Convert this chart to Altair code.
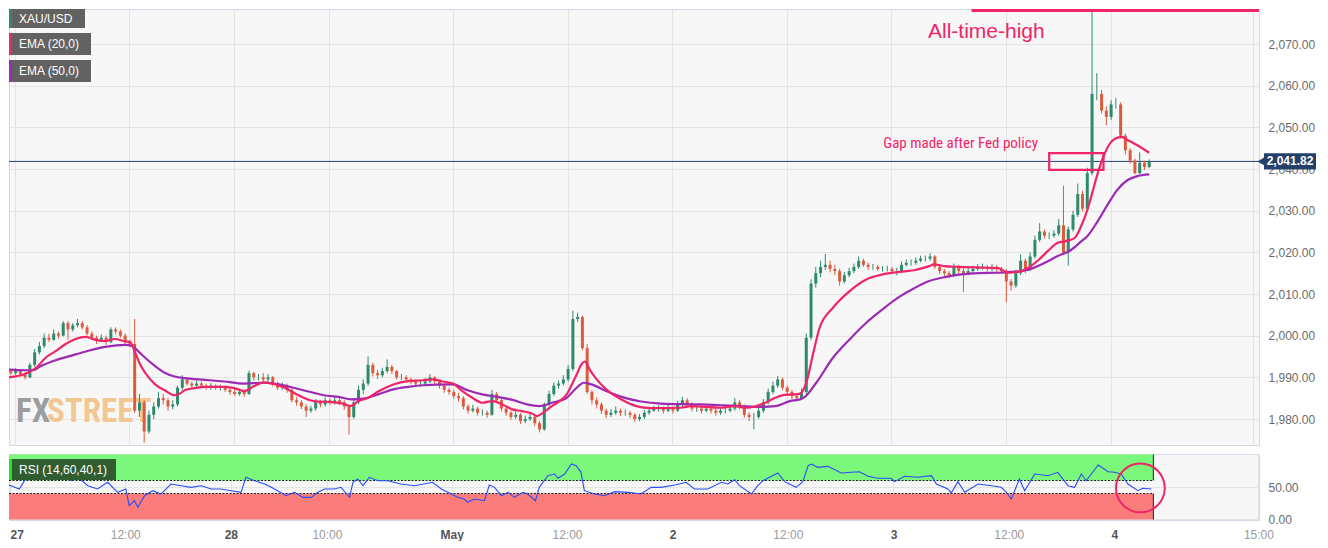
import altair as alt
import numpy as np
import pandas as pd

FONT = "Liberation Sans, Arial, Helvetica, sans-serif"
NARROW = "Liberation Sans Narrow, Arial Narrow, Roboto Condensed, Liberation Sans, sans-serif"

GREEN = "#2d8a6d"
RED = "#de5a3c"
PINK = "#ef2567"
PURPLE = "#9c2ab4"
NAVY = "#23416b"
GRID = "#e4e4e4"
BORDER = "#d3d9e6"
PLOT_BG = "#f7f7f7"
BAND_HI = "#7bf77b"
BAND_LO = "#fb7d7b"

# ---------------- data: XAU/USD 30-minute candles (bar index) ----------------
first_open = 1991.2

closes_apr27 = [1991.5, 1991, 1991.5, 1990.8, 1990, 1993, 1996, 1997.5, 1999.5, 1999,
                2000.5, 2000, 2003, 2001.5, 2002.5, 2003, 2002, 2000.5, 1999.5, 1999,
                1999.5, 1998.5, 2001.5, 2001, 2000, 1998.5, 1998, 1982, 1984, 1977,
                1981, 1983, 1985, 1984.5, 1983, 1983.5, 1987.5, 1989.5, 1988.5, 1988,
                1988.5, 1988, 1987.5, 1988, 1987.5, 1987.5, 1987, 1986.5]
highs_apr27 = [1992, 1992, 1992.2, 1992, 1991.2, 1993.5, 1996.8, 1998.5, 2000.5, 2000.5,
               2001.5, 2001, 2003.5, 2003.5, 2003, 2004, 2003.5, 2002.5, 2001, 2000,
               2000.3, 2000, 2002, 2002, 2001.5, 2000.5, 1999, 2004, 1986, 1984.5,
               1982, 1984, 1986.5, 1986, 1985, 1984.5, 1988, 1990.5, 1990, 1989,
               1989.2, 1989, 1988.5, 1988.6, 1988.3, 1988.2, 1988, 1987.5]
lows_apr27 = [1990.8, 1990.5, 1990.6, 1990.2, 1989.5, 1989.8, 1992.5, 1995.5, 1997, 1998.5,
              1998.8, 1999.3, 1999.8, 1999, 2001, 2002, 2001.5, 2000, 1999, 1998,
              1998.7, 1997.8, 1998.2, 2000.3, 1999.5, 1998, 1997.2, 1981.5, 1980.5, 1974.3,
              1976.5, 1980, 1982.5, 1983.5, 1982, 1982.3, 1983, 1987, 1988, 1987.4,
              1987.6, 1987.5, 1987, 1987, 1987, 1986.8, 1986.5, 1985.8]

closes_apr28 = [1986, 1986.5, 1986, 1991, 1990, 1990, 1989.5, 1990, 1988.5, 1987.5,
                1988, 1987, 1984.5, 1984, 1983, 1982, 1982.5, 1984, 1983.5, 1984.5,
                1984, 1984.5, 1984, 1983, 1980.5, 1984, 1987, 1988.5, 1993, 1991,
                1990.5, 1991.5, 1992.5, 1991.5, 1990, 1990, 1989.5, 1989, 1988.5, 1988.5,
                1989, 1990, 1989, 1988, 1987, 1986.5, 1985.5, 1985]
highs_apr28 = [1987.2, 1987.3, 1987, 1991.6, 1991.3, 1990.8, 1991, 1990.8, 1990.3, 1989,
               1988.8, 1988.5, 1987.5, 1985.3, 1984.5, 1983.5, 1983.2, 1984.8, 1984.6, 1985.2,
               1985, 1985.3, 1985, 1984.5, 1983.5, 1984.6, 1988, 1989.5, 1995, 1993.5,
               1991.8, 1992.3, 1994.3, 1993, 1991.8, 1990.8, 1990.5, 1990, 1989.5, 1989.2,
               1989.8, 1990.8, 1990.3, 1989.4, 1988.4, 1987.5, 1987, 1986.3]
lows_apr28 = [1985.5, 1985.6, 1985.4, 1985.8, 1989.2, 1989.2, 1988.8, 1988.5, 1987.8, 1987,
              1987, 1986.3, 1984, 1983.2, 1982.4, 1980.5, 1981.5, 1982, 1982.8, 1983,
              1983.4, 1983.5, 1983.3, 1982.2, 1976.2, 1980, 1983.5, 1986, 1988, 1990.2,
              1989.6, 1990, 1991, 1990.8, 1989.5, 1989.3, 1988.8, 1988.3, 1987.8, 1987.8,
              1988, 1988.6, 1988.3, 1987.3, 1986.3, 1985.8, 1984.8, 1984.2]

closes_may1 = [1983, 1982, 1982.5, 1981.5, 1981.5, 1981, 1986, 1984.5, 1982.5, 1981.5,
               1980.5, 1981, 1979.5, 1980, 1980.5, 1979, 1977.5, 1983.5, 1986, 1988,
               1988.5, 1989.5, 1992, 2004, 2004.5, 1997, 1986.5, 1984.5, 1983.5, 1982,
               1981, 1981.5, 1982, 1981.5, 1981.5, 1981, 1980, 1980.5, 1981.5, 1982,
               1982.5, 1982.5, 1982, 1982.5, 1982, 1983.5, 1984.5, 1983.5]
highs_may1 = [1985.5, 1983.5, 1983.4, 1983, 1982.3, 1982, 1987, 1986.5, 1985, 1983,
              1982, 1981.8, 1981.5, 1980.8, 1981.5, 1981, 1979.5, 1984, 1986.8, 1988.8,
              1989.3, 1990.5, 1993, 2006, 2005.5, 2004.8, 1998, 1987, 1985.2, 1984,
              1982.5, 1982.4, 1983, 1982.5, 1982.3, 1982, 1981.4, 1981.2, 1982.2, 1982.7,
              1983.2, 1983.3, 1983, 1983.4, 1983, 1984.3, 1985.3, 1985]
lows_may1 = [1982.3, 1981.3, 1981.6, 1980.8, 1980.8, 1980.3, 1980.8, 1983.8, 1981.8, 1980.8,
             1979.8, 1980, 1978.8, 1979, 1979.5, 1978.3, 1976.8, 1977.2, 1983, 1985.5,
             1987.3, 1988, 1989, 1991.5, 2003.3, 1996.5, 1986, 1983.5, 1982.5, 1981.2,
             1980.2, 1980.5, 1981, 1980.7, 1980.8, 1980.2, 1979.3, 1979.5, 1980, 1981,
             1981.7, 1981.8, 1981.3, 1981.6, 1981.3, 1981.7, 1983, 1982.8]

closes_may2 = [1982.5, 1982.5, 1982, 1982.5, 1982, 1981.5, 1982, 1982, 1982.5, 1984,
               1983, 1981, 1980.5, 1980.5, 1982, 1984, 1986.5, 1988, 1989.5, 1987.5,
               1986.5, 1985.5, 1985, 1986.5, 1999.5, 2012.5, 2015, 2016.5, 2017, 2016,
               2015.5, 2013, 2014.5, 2015.5, 2016.5, 2018, 2017, 2016.5, 2016.5, 2016,
               2016, 2016, 2015.5, 2015.5, 2017, 2017.5, 2017.5, 2018]
highs_may2 = [1984, 1983.3, 1983, 1983.2, 1983, 1982.5, 1982.8, 1982.8, 1983.3, 1985,
              1984.5, 1983.5, 1981.6, 1981.5, 1982.8, 1984.8, 1987.3, 1989, 1990.3, 1990,
              1988, 1987, 1986, 1987.3, 2000.5, 2013.5, 2016.5, 2018, 2019.6, 2018,
              2017, 2016, 2015.3, 2016.3, 2017.3, 2019, 2018.5, 2017.5, 2017.2, 2017,
              2016.7, 2016.8, 2016.5, 2016.3, 2017.8, 2018.3, 2018.3, 2018.8]
lows_may2 = [1981.8, 1981.7, 1981.3, 1981.6, 1981.3, 1980.8, 1981, 1981.3, 1981.6, 1982,
             1982.3, 1980.3, 1979.5, 1977.5, 1980, 1981.5, 1983.5, 1986, 1987.5, 1987,
             1985.8, 1984.8, 1984.3, 1984.6, 1986, 1999, 2011.5, 2014, 2015.8, 2015.2,
             2014.5, 2012, 2012.5, 2014, 2015, 2016, 2016.5, 2015.8, 2015.8, 2015.5,
             2015.4, 2015.4, 2014.8, 2014.5, 2015, 2016.6, 2016.8, 2017]

closes_may3_4 = [2018.5, 2018.5, 2019, 2016.5, 2015.5, 2015, 2014.5, 2016.5, 2015.5, 2015,
                 2015.5, 2016, 2016.5, 2016.5, 2016, 2016.5, 2016, 2015.5, 2013, 2012,
                 2015, 2018, 2016, 2019, 2023, 2025, 2024, 2024, 2024.5, 2026.5,
                 2020, 2025.5, 2029, 2034, 2030.5, 2039, 2058, 2058, 2054, 2052.5,
                 2055.5, 2055.5, 2048, 2044.5, 2042, 2039, 2041.5, 2040.5, 2041.82]
highs_may3_4 = [2019.2, 2019.2, 2019.8, 2019.3, 2017, 2016, 2015.5, 2017.3, 2017, 2016.3,
                2016.2, 2016.8, 2017.2, 2017.3, 2017, 2017.2, 2017, 2016.5, 2016, 2013.6,
                2015.8, 2019.5, 2018.5, 2020, 2024, 2027, 2025.5, 2024.8, 2025.3, 2028,
                2036, 2026.2, 2030, 2036.5, 2034.8, 2040.3, 2080, 2063, 2059, 2055,
                2056.5, 2057, 2056, 2048.5, 2045, 2042.5, 2044, 2042, 2042.3]
lows_may3_4 = [2017.6, 2017.8, 2018, 2016, 2014.8, 2014.3, 2013.8, 2014, 2014.8, 2010.5,
               2014.5, 2015, 2015.6, 2015.8, 2015.4, 2015.5, 2015.3, 2014.8, 2008, 2010.8,
               2011.5, 2014.5, 2015, 2015.5, 2018.5, 2022.5, 2023.3, 2023.2, 2023.5, 2024,
               2019.5, 2016.8, 2025, 2028.5, 2029.8, 2030, 2038.5, 2056.5, 2053.3, 2050.5,
               2051.8, 2054.5, 2047.3, 2043.5, 2041.3, 2038.7, 2038.8, 2039.8, 2040.2]

# EMA lines (bar index, value)
ema20_bars = [0, 4.2, 6.3, 8.3, 10.4, 12.5, 14.6, 16.7, 18.8, 20.8, 22.9, 25, 26, 27.1, 28.1,
              29.2, 31.3, 33.3, 35.4, 36.5, 37.5, 39.6, 41.7, 45.8, 47.9, 50, 52.1, 54.2, 56.3,
              58.3, 60.4, 62.5, 64.6, 68.8, 70.8, 72.3, 74, 76, 78.1, 81.3, 84.4, 87.5, 89.6,
              91.7, 93.8, 95.8, 97.9, 100, 102.1, 104.2, 106.3, 108.3, 110.4, 111.5, 112.5,
              114.6, 116.7, 117.7, 118.8, 119.8, 120.8, 121.5, 122.5, 124, 126, 129.2, 132.3,
              135.4, 141.7, 143.8, 150, 153.1, 155.2, 157.3, 159.4, 161.5, 163.5, 165.6, 166.7,
              168.1, 169.4, 170.8, 173.6, 177.1, 180.6, 184, 187.5, 190.6, 193.8, 194.8, 196.9,
              200, 206.3, 208.3, 210.4, 212.5, 214.6, 216.7, 218.8, 220.8, 222.9, 224.4, 225.6,
              227.1, 228.1, 229.2, 230.4, 231.7, 232.9, 234.2, 235.4, 237.5, 240]
ema20_vals = [1989.9, 1990.9, 1992.3, 1994.7, 1996.3, 1998, 1999.2, 1999.7, 1999.0, 1998.7,
              1999.2, 1998.6, 1998.5, 1995.9, 1993.2, 1991.1, 1988.3, 1986.9, 1985.7, 1986.1,
              1986.9, 1987.4, 1987.7, 1987.7, 1987.4, 1986.7, 1987.9, 1988.8, 1988.4, 1987.6,
              1986.3, 1985.1, 1984.3, 1984, 1983.7, 1983.1, 1984.3, 1985.1, 1986.6, 1988.3,
              1989.1, 1989.3, 1989.5, 1989, 1988.5, 1986.7, 1985.1, 1983.9, 1984.3, 1983.5,
              1982.3, 1981.9, 1981.3, 1980.7, 1981.3, 1983.1, 1984.7, 1985.9, 1988.3, 1990.7,
              1993.1, 1993.8, 1991.9, 1989.5, 1987.1, 1984.7, 1983.1, 1982.6, 1982.7, 1983.1,
              1982.7, 1983.1, 1982.7, 1983, 1983.9, 1985.1, 1985.8, 1985.9, 1986.1, 1989.1,
              1995.5, 2001.9, 2006.7, 2010.7, 2013.5, 2014.7, 2015.3, 2015.7, 2016.7, 2017.1,
              2016.7, 2016.5, 2016.3, 2016.2, 2015.1, 2015.3, 2016.3, 2018.1, 2020.4, 2022.3,
              2022.8, 2023.5, 2026, 2030.5, 2034.5, 2039, 2043, 2046, 2047.3, 2047.7,
              2047, 2045.7, 2043.9]

ema50_bars = [0, 4.2, 5.6, 7.3, 10.4, 14.6, 17.7, 20.8, 25, 26.5, 27.7, 29.2, 31.3, 33.3, 35.4,
              37.5, 41.7, 45.8, 50, 54.2, 57.3, 60.4, 63.5, 66.7, 69.8, 72.5, 75, 78.1, 81.3,
              84.4, 87.5, 93.8, 96.9, 100, 103.1, 106.3, 109.4, 111.9, 114.6, 117.7, 119.8,
              121.3, 122.9, 126, 129.2, 133.3, 137.5, 145.8, 150, 154.2, 158.3, 161.5, 164.6,
              166.7, 167.7, 170.1, 173.6, 177.1, 180.6, 184, 187.5, 190.2, 193.8, 197.3, 200.6,
              204.2, 208.3, 211, 214.2, 218.1, 220.8, 223.5, 225.6, 227.1, 229.2, 231.3, 233.3,
              235.4, 237.5, 240]
ema50_vals = [1991.9, 1991.7, 1991.7, 1992.7, 1994.1, 1995.5, 1996.5, 1997.3, 1997.8, 1997.5,
              1996.3, 1994.7, 1992.7, 1991.1, 1990.2, 1989.8, 1989.4, 1989, 1988.5, 1988.7,
              1988.3, 1987.5, 1986.6, 1985.7, 1985.3, 1984.7, 1984.9, 1985.9, 1987.1, 1987.7,
              1988.1, 1988.3, 1986.9, 1985.9, 1985.3, 1984.6, 1983.5, 1983.1, 1983.9, 1985.1,
              1987.5, 1988.7, 1988.3, 1986.7, 1985.3, 1984.2, 1983.7, 1983.5, 1983.3, 1983.1,
              1982.9, 1983.1, 1984.3, 1984.7, 1985.3, 1988.7, 1994.7, 1999.1, 2003.1, 2006.3,
              2009.3, 2011.1, 2013.1, 2014.1, 2014.7, 2015, 2015.1, 2015.3, 2015.7, 2017.5,
              2019.1, 2020.5, 2022.5, 2024, 2027.5, 2031.5, 2035, 2037.3, 2038.3, 2038.7]

# RSI (14)
rsi_bars = [0, 2.1, 3.8, 4.9, 6.3, 8.3, 10.4, 11.8, 13.2, 14.6, 16, 18.1, 20.1, 22.2, 24.3,
            26, 26.7, 27.8, 28.5, 29.9, 31.6, 33.3, 35.4, 37.5, 39.6, 41.7, 43.8, 45.8, 47.9,
            50, 51, 52.8, 54.9, 56.3, 57.6, 59.4, 61.1, 62.9, 64.6, 66, 67.4, 69.4, 70.8,
            72.6, 73.3, 74.3, 75.4, 76.7, 78.5, 80.6, 83.3, 86.1, 89.9, 91.7, 93.8, 95.1,
            96.5, 97.2, 98.6, 100.7, 101.7, 102.8, 104.2, 105.6, 106.9, 108.7, 109.7, 111.3,
            112.1, 113.9, 115.3, 116, 117.4, 118.8, 119.8, 120.8, 121.5, 123.6, 125.7, 127.8,
            130.6, 133.3, 135.4, 137.5, 140.3, 142.7, 144.4, 147.2, 150, 151.4, 152.8, 153.8,
            156.3, 157.6, 158.7, 161.8, 163.2, 165.6, 167, 168.1, 168.8, 170.1, 172.2, 175,
            177.1, 178.8, 180.6, 182.6, 185.4, 186.1, 188.2, 191, 193.8, 194.8, 197.2, 197.9,
            199.3, 200.7, 203.5, 206.3, 208.3, 209.4, 210.4, 212.1, 213.2, 215.3, 218.1, 220.1,
            222.2, 223.6, 225, 226, 227.1, 228.5, 230.6, 231.9, 233.3, 234.7, 236.8, 237.8, 239.6]
rsi_vals = [54.6, 52, 46.9, 59.7, 70, 72.6, 72.6, 67.4, 70, 59.7, 64.9, 52, 46.9, 57.2, 41.8,
            46.9, 21.2, 28.9, 18.8, 36.6, 44.3, 39.2, 54.6, 52, 49.5, 52, 46.9, 46.9, 44.3,
            41.8, 64.9, 59.7, 54.6, 49.5, 44.3, 36.6, 41.8, 34.1, 34.1, 41.8, 46.9, 46.9, 49.5,
            34.1, 57.2, 62.3, 52, 64.9, 59.7, 59.7, 54.6, 52, 57.2, 46.9, 39.2, 34.1,
            31.5, 26.5, 31.5, 28.9, 53.1, 49.5, 36.6, 41.8, 34.1, 41.8, 39.2, 28.9,
            49.5, 67.4, 70, 63.4, 70, 85.4, 82.8, 72.6, 44.3, 39.2, 36.6, 42.8,
            41.8, 39.2, 49.5, 49.5, 53.1, 57.2, 46.9, 46.9, 57.2, 54.6, 61.2, 52,
            39.2, 52, 59.7, 71.5, 58.2, 49.5, 58.2, 82.8, 85.4, 80.3, 81.8, 71.5,
            72.6, 73.5, 66.5, 63.4, 63.4, 58.2, 66.5, 64.9, 67.4, 54.6, 46.9, 40.8,
            58.2, 41.8, 54.6, 52, 49.5, 41.8, 31.5, 62.3, 44.3, 70, 67.4, 72.6,
            52, 49.5, 70, 59.7, 70, 83.8, 73.5, 72.6, 70, 54.6, 44.3, 48, 46.9]

# axis ticks (bar index of each label)
tick_bars = [1.875, 25.875, 47.875, 67.875, 93.875, 117.875, 139.875, 163.875, 185.875,
             209.875, 231.875, 261.875]
tick_labels = ["27", "12:00", "28", "10:00", "May", "12:00", "2", "12:00", "3", "12:00", "4", "15:00"]
day_ticks = [1.875, 47.875, 93.875, 139.875, 185.875, 231.875]
price_ticks = [1980, 1990, 2000, 2010, 2020, 2030, 2040, 2050, 2060, 2070]
rsi_ticks = [0, 50]

# annotations
last_price = 2041.82
gap_bars = [219.0, 230.4]
gap_prices = [2039.8, 2043.8]
ath_bar = 202.7
legend_labels = ["XAU/USD", "EMA (20,0)", "EMA (50,0)"]
legend_colors = ["#2e8b6f", PINK, PURPLE]
rsi_upper = [60, 100]
rsi_lower = [0, 40]
last_bar = 240

# ---------------- tables ----------------
closes = closes_apr27 + closes_apr28 + closes_may1 + closes_may2 + closes_may3_4
highs = highs_apr27 + highs_apr28 + highs_may1 + highs_may2 + highs_may3_4
lows = lows_apr27 + lows_apr28 + lows_may1 + lows_may2 + lows_may3_4
n = min(len(closes), len(highs), len(lows))
closes, highs, lows = closes[:n], highs[:n], lows[:n]
opens = [first_open] + closes[:-1]
df = pd.DataFrame({"bar": np.arange(n), "open": opens, "close": closes,
                   "high": highs, "low": lows})
df["high"] = df[["high", "open", "close"]].max(axis=1)
df["low"] = df[["low", "open", "close"]].min(axis=1)
df["dir"] = np.where(df["close"] >= df["open"], "up", "down")

ema20_df = pd.DataFrame({"bar": ema20_bars, "v": ema20_vals})
ema50_df = pd.DataFrame({"bar": ema50_bars, "v": ema50_vals})
rsi_df = pd.DataFrame({"bar": rsi_bars, "rsi": rsi_vals})
one = pd.DataFrame({"k": [0]})

# ---------------- scales / axes ----------------
W = 1250
H_MAIN = 436
H_RSI = 66
X_MIN, X_MAX = 1.6667, 262.0

x_scale = alt.Scale(domain=[X_MIN, X_MAX], nice=False, zero=False)
y_scale = alt.Scale(domain=[1973.76, 2078.4], nice=False, zero=False)
r_scale = alt.Scale(domain=[-0.8, 100.8], nice=False, zero=False)
color_scale = alt.Scale(domain=["up", "down"], range=[GREEN, RED])

tick_list = "[" + ",".join(str(v) for v in tick_bars) + "]"
day_list = "[" + ",".join(str(v) for v in day_ticks) + "]"
label_list = "[" + ",".join("'" + s + "'" for s in tick_labels) + "]"
label_expr = label_list + "[indexof(" + tick_list + ", datum.value)]"
is_day = "indexof(" + day_list + ", datum.value) >= 0"

x_axis_main = alt.Axis(values=tick_bars, labels=False, ticks=False, domain=False,
                       grid=True, gridColor=GRID, title=None)
y_axis_main = alt.Axis(orient="right", values=price_ticks, format=",.2f", labelColor="#6b6b6b",
                       labelFontSize=12, labelFont=FONT, labelPadding=9, ticks=False,
                       domain=False, grid=True, gridColor=GRID, title=None)
x_axis_rsi = alt.Axis(values=tick_bars, labelExpr=label_expr,
                      labelFontWeight={"condition": {"test": is_day, "value": "bold"}, "value": "normal"},
                      labelColor={"condition": {"test": is_day, "value": "#555555"}, "value": "#9a9a9a"},
                      labelAlign={"condition": {"test": "datum.value < 5", "value": "left"}, "value": "center"},
                      labelFlush=False, labelOverlap=False, labelFontSize=12, labelFont=FONT,
                      labelPadding=9, ticks=False, domain=False, grid=True, gridColor=GRID, title=None)
y_axis_rsi = alt.Axis(orient="right", values=rsi_ticks, format=".2f", labelColor="#6b6b6b",
                      labelFontSize=12, labelFont=FONT, labelPadding=9, ticks=False,
                      domain=False, grid=True, gridColor=GRID, title=None)


def X(field):
    return alt.X(field, type="quantitative", scale=x_scale, axis=x_axis_main)


def Y(field):
    return alt.Y(field, type="quantitative", scale=y_scale, axis=y_axis_main)


def XR(field):
    return alt.X(field, type="quantitative", scale=x_scale, axis=x_axis_rsi)


def YR(field):
    return alt.Y(field, type="quantitative", scale=r_scale, axis=y_axis_rsi)


# ---------------- main panel ----------------
wicks = alt.Chart(df).mark_rule(strokeWidth=1, clip=True).encode(
    x=X("bar"), y=Y("low"), y2="high",
    color=alt.Color("dir:N", scale=color_scale, legend=None))
bodies = alt.Chart(df).mark_bar(size=3, clip=True).encode(
    x=X("bar"), y=Y("open"), y2="close",
    color=alt.Color("dir:N", scale=color_scale, legend=None))
ema50_line = alt.Chart(ema50_df).mark_line(color=PURPLE, strokeWidth=2.2, interpolate="monotone",
                                           clip=True).encode(x=X("bar"), y=Y("v"))
ema20_line = alt.Chart(ema20_df).mark_line(color=PINK, strokeWidth=2.2, interpolate="monotone",
                                           clip=True).encode(x=X("bar"), y=Y("v"))
price_line = alt.Chart(pd.DataFrame({"p": [last_price]})).mark_rule(
    color=NAVY, strokeWidth=1).encode(y=Y("p"))

gap_rect = alt.Chart(pd.DataFrame({"x0": [gap_bars[0]], "x1": [gap_bars[1]],
                                   "y0": [gap_prices[0]], "y1": [gap_prices[1]]})).mark_rect(
    fillOpacity=0, stroke=PINK, strokeWidth=2.2).encode(x=X("x0"), x2="x1", y=Y("y0"), y2="y1")
gap_text = alt.Chart(pd.DataFrame({"bar": [200.4], "p": [2046.2], "t": ["Gap made after  Fed policy"]})).mark_text(
    color=PINK, fontSize=15, font=NARROW).encode(x=X("bar"), y=Y("p"), text="t:N")
ath_text = alt.Chart(pd.DataFrame({"bar": [205.8], "p": [2072.9], "t": ["All-time-high"]})).mark_text(
    color=PINK, fontSize=21, font=FONT).encode(x=X("bar"), y=Y("p"), text="t:N")
ath_line = alt.Chart(pd.DataFrame({"x0": [ath_bar]})).mark_rule(
    color=PINK, strokeWidth=3).encode(x=X("x0"), x2=alt.value(W), y=alt.value(1.5))

tag_df = pd.DataFrame({"p": [last_price], "top": [last_price + 1.95], "bot": [last_price - 1.95],
                       "t": [f"{last_price:,.2f}"]})
tag_rect = alt.Chart(tag_df).mark_rect(color=NAVY).encode(
    x=alt.value(1255), x2=alt.value(1307), y=Y("top"), y2="bot")
tag_arrow = alt.Chart(tag_df).mark_point(shape="triangle-left", filled=True, size=70, opacity=1,
                                         color=NAVY).encode(x=alt.value(1252), y=Y("p"))
tag_text = alt.Chart(tag_df).mark_text(color="white", fontSize=12, fontWeight="bold", font=FONT).encode(
    x=alt.value(1281), y=Y("p"), text="t:N")

legend_layers = []
for i, (lab, col) in enumerate(zip(legend_labels, legend_colors)):
    y0 = 0 if i == 0 else 24 + 27 * (i - 1)
    y1 = 19 if i == 0 else y0 + 22
    x1 = 76 if i == 0 else 82
    legend_layers.append(alt.Chart(one).mark_rect(color="#5a5a5a", opacity=0.95).encode(
        x=alt.value(0), x2=alt.value(x1), y=alt.value(y0), y2=alt.value(y1)))
    legend_layers.append(alt.Chart(one).mark_rect(color=col).encode(
        x=alt.value(0), x2=alt.value(3), y=alt.value(y0), y2=alt.value(y1)))
    legend_layers.append(alt.Chart(one).mark_text(text=lab, color="white", fontSize=12, font=FONT,
                                                  align="left", baseline="middle").encode(
        x=alt.value(10), y=alt.value((y0 + y1) / 2)))

fx_text = alt.Chart(one).mark_text(text="FX", color="#9d9d9d", fontSize=33, fontWeight="bold",
                                   font=NARROW, align="left", baseline="middle").encode(
    x=alt.value(7), y=alt.value(403))
street_text = alt.Chart(one).mark_text(text="STREET", color="#f2c792", fontSize=33, fontWeight="bold",
                                       font=NARROW, align="left", baseline="middle").encode(
    x=alt.value(38), y=alt.value(403))

main = alt.layer(fx_text, street_text, price_line, wicks, bodies, ema50_line, ema20_line,
                 gap_rect, gap_text, ath_text, ath_line, tag_rect, tag_arrow, tag_text,
                 *legend_layers).properties(width=W, height=H_MAIN)

# ---------------- RSI panel ----------------
hi_df = pd.DataFrame({"start": [X_MIN], "end": [last_bar], "y0": [rsi_upper[0]], "y1": [rsi_upper[1]]})
lo_df = pd.DataFrame({"start": [X_MIN], "end": [last_bar], "y0": [rsi_lower[0]], "y1": [rsi_lower[1]]})
band_hi = alt.Chart(hi_df).mark_rect(color=BAND_HI).encode(
    x=XR("start"), x2="end", y=YR("y0"), y2="y1")
band_lo = alt.Chart(lo_df).mark_rect(color=BAND_LO).encode(
    x=XR("start"), x2="end", y=YR("y0"), y2="y1")
lvl_df = pd.DataFrame({"start": [X_MIN, X_MIN], "end": [last_bar, last_bar],
                       "lvl": [rsi_upper[0], rsi_lower[1]]})
levels = alt.Chart(lvl_df).mark_rule(color="#222222", strokeWidth=1, strokeDash=[2, 1.5]).encode(
    x=XR("start"), x2="end", y=YR("lvl"))
end_hi = alt.Chart(hi_df).mark_rule(color="#222222", strokeWidth=1).encode(
    x=XR("end"), y=YR("y0"), y2="y1")
end_lo = alt.Chart(lo_df).mark_rule(color="#222222", strokeWidth=1).encode(
    x=XR("end"), y=YR("y0"), y2="y1")
rsi_line = alt.Chart(rsi_df).mark_line(color="#2a4df5", strokeWidth=1.1, clip=True).encode(
    x=XR("bar"), y=YR("rsi"))
circle = alt.Chart(pd.DataFrame({"bar": [237.3], "v": [48.5]})).mark_point(
    shape="circle", size=2376, filled=False, color=PINK, strokeWidth=2, opacity=1).encode(
    x=XR("bar"), y=YR("v"))
rsi_box = alt.Chart(one).mark_rect(color="#2f5d2f").encode(
    x=alt.value(0), x2=alt.value(107), y=alt.value(5), y2=alt.value(26))
rsi_stripe = alt.Chart(one).mark_rect(color="#1de81d").encode(
    x=alt.value(0), x2=alt.value(3), y=alt.value(5), y2=alt.value(26))
rsi_label = alt.Chart(one).mark_text(text="RSI (14,60,40,1)", color="white", fontSize=12, font=FONT,
                                     align="left", baseline="middle").encode(
    x=alt.value(10), y=alt.value(15.5))

rsi = alt.layer(band_hi, band_lo, levels, end_hi, end_lo, rsi_line, circle, rsi_box, rsi_stripe,
                rsi_label).properties(width=W, height=H_RSI)

chart = alt.vconcat(main, rsi, spacing=7).properties(
    padding=0, background="white"
).configure_view(stroke=BORDER, strokeWidth=1, fill=PLOT_BG)

chart.save("out.html", embed_options={"renderer": "svg", "actions": False})
